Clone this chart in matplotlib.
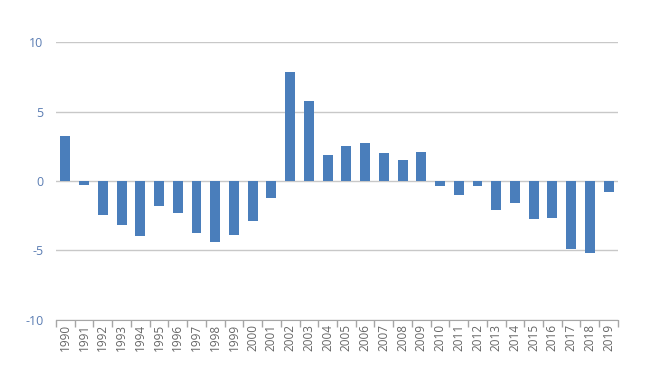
import numpy as np
from matplotlib import pyplot as plt

years = [str(y) for y in range(1990, 2020)]
values = [3.24, -0.3, -2.42, -3.14, -3.93, -1.8, -2.28, -3.77, -4.41, -3.86,
          -2.9, -1.25, 7.86, 5.76, 1.87, 2.52, 2.76, 2.04, 1.49, 2.11,
          -0.36, -1.0, -0.33, -2.11, -1.58, -2.76, -2.69, -4.87, -5.18, -0.77]
y_ticks = [-10, -5, 0, 5, 10]

plt.rcParams['font.family'] = ['Open Sans', 'DejaVu Sans']

fig = plt.figure(figsize=(6.56, 3.69), dpi=100)
ax = fig.add_axes([0.0854, 0.133, 0.8566, 0.753])

x = np.arange(len(years))
ax.bar(x, values, width=0.53, color='#4a7ebb', zorder=3)

ax.set_xlim(-0.5, len(years) - 0.5)
ax.set_ylim(-10, 10)
ax.set_yticks(y_ticks)
ax.set_yticklabels([str(v) for v in y_ticks], color='#5b7db3', fontsize=9)
ax.yaxis.grid(True, color='#c8c8c8', linewidth=1, zorder=0)
ax.tick_params(axis='y', length=0, pad=9)

# category labels at centres, tick marks between categories
ax.set_xticks(x)
ax.set_xticklabels(years, rotation=90, fontsize=8.5, color='#666666')
ax.tick_params(axis='x', which='major', length=0, pad=3)
ax.set_xticks(np.arange(-0.5, len(years)), minor=True)
ax.tick_params(axis='x', which='minor', length=5, color='#a6a6a6', width=1)

for s in ['top', 'right', 'left']:
    ax.spines[s].set_visible(False)
ax.spines['bottom'].set_color('#a6a6a6')

fig.savefig('out.png', dpi=100)
